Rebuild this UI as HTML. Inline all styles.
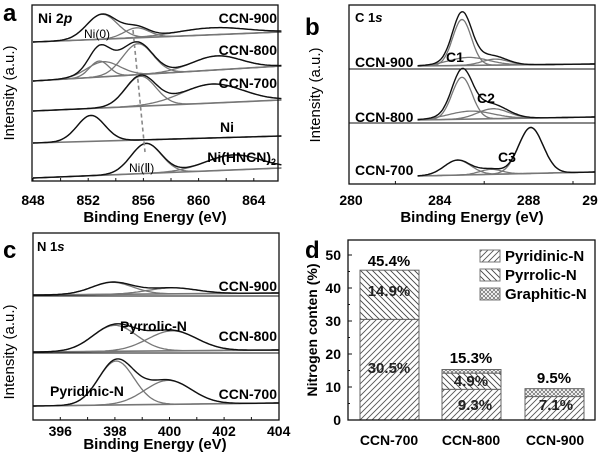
<!DOCTYPE html>
<html><head><meta charset="utf-8"><style>
body{margin:0;background:#fff}
svg{display:block;font-family:"Liberation Sans",Arial,sans-serif;font-weight:bold}
</style></head><body>
<svg id="s" width="600" height="457" viewBox="0 0 600 457">
<defs>
<pattern id="h1" patternUnits="userSpaceOnUse" width="6" height="6"><rect width="6" height="6" fill="#fff"/><path d="M-1,7 L7,-1 M-1,1 L1,-1 M5,7 L7,5" stroke="#555" stroke-width="0.9"/></pattern>
<pattern id="h2" patternUnits="userSpaceOnUse" width="6" height="6"><rect width="6" height="6" fill="#fff"/><path d="M-1,-1 L7,7 M5,-1 L7,1 M-1,5 L1,7" stroke="#444" stroke-width="0.9"/></pattern>
<pattern id="h3" patternUnits="userSpaceOnUse" width="4" height="4"><rect width="4" height="4" fill="#fff"/><path d="M0,0 L4,4 M4,0 L0,4" stroke="#666" stroke-width="0.7"/></pattern>
</defs>
<g id="g"></g>
</svg>
<script>
var g=document.getElementById('g'),out='';
function T(x,y,t,sz,anc,extra){out+='<text x="'+x+'" y="'+y+'" font-size="'+sz+'" text-anchor="'+(anc||'start')+'" '+(extra||'')+'>'+t+'</text>';}
function L(x1,y1,x2,y2,c,w,d){out+='<line x1="'+x1+'" y1="'+y1+'" x2="'+x2+'" y2="'+y2+'" stroke="'+c+'" stroke-width="'+w+'"'+(d?' stroke-dasharray="'+d+'"':'')+'/>';}
function curve(X,x0,x1,base,peaks,color,w){
  var d='';for(var i=0;i<=120;i++){var e=x0+(x1-x0)*i/120,y=base(e);peaks.forEach(function(p){y-=p[1]*Math.exp(-Math.pow((e-p[0])/p[2],2)/2);});d+=(i?'L':'M')+X(e).toFixed(1)+','+y.toFixed(1);}
  out+='<path d="'+d+'" fill="none" stroke="'+color+'" stroke-width="'+w+'"/>';}
function row(X,x0,x1,base,peaks){
  L(X(x0),base(x0),X(x1),base(x1),'#777',1.6);
  peaks.forEach(function(p){curve(X,x0,x1,base,[p],'#777',1.3);});
  curve(X,x0,x1,base,peaks,'#111',1.4);}
function lin(xa,ya,xb,yb){return function(e){return ya+(yb-ya)*(e-xa)/(xb-xa);};}
// ---------- panel a
var Xa=function(e){return 33+(e-848)*13.8;};
row(Xa,848,866,lin(848,42,866,32),[[853,25,1.1],[855.5,10,0.9],[861,7,2.5]]);
row(Xa,848,866,lin(848,81,866,66),[[852.8,16,0.7],[853.1,15,1.2],[855.6,31,1.1],[861.3,14,1.8]]);
row(Xa,848,866,lin(848,111,866,100),[[855.8,30,1.1],[861,19,2.2]]);
row(Xa,848,866,lin(848,143,866,136),[[852.2,26,1.0]]);
row(Xa,848,866,lin(848,178,866,168),[[856.2,30,1.1],[862.5,15,2.0]]);
L(133,30,145,152,'#888',1.6,'4,3');
out+='<rect x="32" y="5" width="246" height="176" fill="none" stroke="#111" stroke-width="1.3"/>';
[848,850,852,854,856,858,860,862,864].forEach(function(e){L(Xa(e),181,Xa(e),178,'#111',1);});
[848,852,856,860,864].forEach(function(e){T(Xa(e),205,e,14,'middle');});
T(155,222,'Binding Energy (eV)',15,'middle');
T(3,21,'a',24);
T(38,23,'Ni 2<tspan font-style="italic">p</tspan>',14);
T(84,38,'Ni(0)',12,'start','font-weight="normal"');
T(277,23,'CCN-900',14,'end');T(277,55,'CCN-800',14,'end');T(277,88,'CCN-700',14,'end');
T(227,132,'Ni',14,'middle');T(276,162,'Ni(HNCN)<tspan font-size="9" dy="3">2</tspan>',14,'end');
T(129,172,'Ni(Ⅱ)',12,'start','font-weight="normal"');
T(14,93,'Intensity (a.u.)',15,'middle','transform="rotate(-90 14 93)" font-weight="normal"');
// ---------- panel b
var Xb=function(e){return 351+(e-280)*22.2;};
row(Xb,283,291,lin(283,66,291,64),[[285.0,46,0.42],[285.3,8,0.9],[286.5,6,0.6]]);
row(Xb,283,291,lin(283,120,291,117),[[285.0,42,0.45],[285.4,8,1.0],[286.4,10,0.7]]);
row(Xb,283,291,lin(283,176,291,172),[[284.8,15,0.6],[286.3,5,0.5],[288.1,46,0.55]]);
L(349,69,595,69,'#111',1.1);L(349,123,595,123,'#111',1.1);
out+='<rect x="349" y="5" width="246" height="179" fill="none" stroke="#111" stroke-width="1.3"/>';
[282,286,290].forEach(function(e){L(Xb(e),184,Xb(e),181,'#111',1);});
[280,284,288].forEach(function(e){T(Xb(e),205,e,14,'middle');});T(590,205,'29',14,'middle');
T(472,222,'Binding Energy (eV)',15,'middle');
T(305,35,'b',24);T(355,22,'C 1<tspan font-style="italic">s</tspan>',13);
T(355,67,'CCN-900',14);T(446,62,'C1',14);T(477,103,'C2',14);T(355,122,'CCN-800',14);T(355,175,'CCN-700',14);T(498,162,'C3',14);
T(320,95,'Intensity (a.u.)',15,'middle','transform="rotate(-90 320 95)" font-weight="normal"');
// ---------- panel c
var Xc=function(e){return 33+(e-395)*27.3;};
row(Xc,395,404,lin(395,295,404,293),[[397.9,12,0.75],[400.1,6,0.9]]);
row(Xc,395,404,lin(395,352,404,350),[[398.0,26,0.8],[400.1,20,0.9]]);
row(Xc,395,404,lin(395,406,404,403),[[398.05,44,0.65],[399.95,24,0.85]]);
L(33,296,279,296,'#111',1.1);L(33,353,279,353,'#111',1.1);
out+='<rect x="33" y="233" width="246" height="187" fill="none" stroke="#111" stroke-width="1.3"/>';
[396,397,398,399,400,401,402,403].forEach(function(e){L(Xc(e),420,Xc(e),417,'#111',1);});
[396,398,400,402,404].forEach(function(e){T(Xc(e),436,e,14,'middle');});
T(155,449,'Binding Energy (eV)',15,'middle');
T(3,258,'c',24);T(37,251,'N 1<tspan font-style="italic">s</tspan>',13);
T(277,291,'CCN-900',14,'end');T(120,331,'Pyrrolic-N',14);T(277,341,'CCN-800',14,'end');
T(50,396,'Pyridinic-N',14);T(277,399,'CCN-700',14,'end');
T(14,352,'Intensity (a.u.)',15,'middle','transform="rotate(-90 14 352)" font-weight="normal"');
// ---------- panel d
var Y=function(v){return 420-v*3.3;};
function bar(x,w,a,b,c){
 out+='<rect x="'+x+'" y="'+Y(a)+'" width="'+w+'" height="'+(a*3.3)+'" fill="url(#h1)" stroke="#666"/>';
 if(b) out+='<rect x="'+x+'" y="'+Y(a+b)+'" width="'+w+'" height="'+(b*3.3)+'" fill="url(#h2)" stroke="#666"/>';
 if(c) out+='<rect x="'+x+'" y="'+Y(a+b+c)+'" width="'+w+'" height="'+(c*3.3)+'" fill="url(#h3)" stroke="#666"/>';}
bar(360,59,30.5,14.9,0);bar(442,59,9.3,4.9,1.1);bar(525,59,7.1,0,2.4);
out+='<rect x="348" y="240" width="247" height="180" fill="none" stroke="#111" stroke-width="1.3"/>';
[0,10,20,30,40,50].forEach(function(v){L(348,Y(v),352,Y(v),'#111',1);T(341,Y(v)+5,v,14,'end');});
[5,15,25,35,45].forEach(function(v){L(348,Y(v),350,Y(v),'#111',1);});
T(389,266,'45.4%',15,'middle');T(389,296,'14.9%',15,'middle','fill="#222"');T(389,373,'30.5%',15,'middle','fill="#222"');
T(471,363,'15.3%',15,'middle');T(471,386,'4.9%',15,'middle','fill="#222"');T(475,410,'9.3%',15,'middle','fill="#222"');
T(554,383,'9.5%',15,'middle');T(556,410,'7.1%',15,'middle','fill="#222"');
T(389,445,'CCN-700',14,'middle');T(471,445,'CCN-800',14,'middle');T(555,445,'CCN-900',14,'middle');
out+='<rect x="480" y="250" width="20" height="12" fill="url(#h1)" stroke="#777"/>';
out+='<rect x="480" y="269" width="20" height="12" fill="url(#h2)" stroke="#777"/>';
out+='<rect x="480" y="288" width="20" height="12" fill="url(#h3)" stroke="#777"/>';
T(505,261,'Pyridinic-N',15);T(505,280,'Pyrrolic-N',15);T(505,299,'Graphitic-N',15);
T(305,258,'d',24);
T(317,330,'Nitrogen conten (%)',14,'middle','transform="rotate(-90 317 330)"');
g.innerHTML=out;
</script>
</body></html>
